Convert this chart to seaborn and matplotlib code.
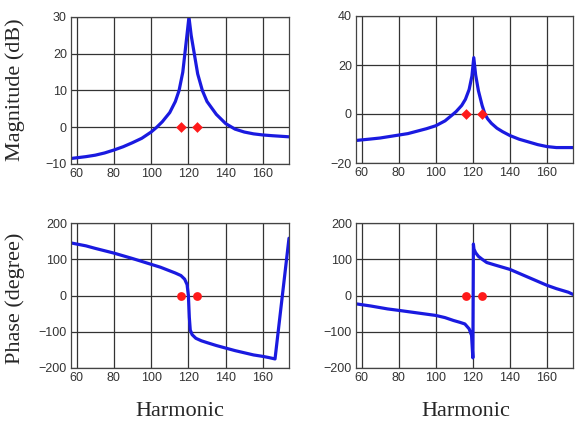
import numpy as np
import pandas as pd
import matplotlib
matplotlib.use("Agg")
import matplotlib.pyplot as plt
import seaborn as sns

# ---- data ----
mag1_h = [57, 65, 70, 75, 80, 85, 90, 95, 100, 103, 106, 110, 113, 115, 117, 118, 119, 120.3,
          121.5, 123, 125, 127.5, 130, 135, 140, 145, 150, 155, 160, 165, 174]
mag1_v = [-8.5, -8.0, -7.6, -7.0, -6.2, -5.3, -4.2, -3.0, -1.3, 0.0, 1.5, 4.0, 7.0, 10.0, 15.0, 19.5, 24.0, 30.0,
          25.0, 20.5, 14.5, 10.0, 7.0, 3.5, 1.0, -0.5, -1.3, -1.8, -2.1, -2.3, -2.6]

mag2_h = [57, 65, 70, 75, 80, 85, 90, 95, 100, 105, 108.7, 111, 114, 116, 118, 119.5, 120.5,
          121.5, 123, 125, 126.5, 128, 130, 133, 136, 140, 145, 150, 155, 160, 165, 174]
mag2_v = [-10.8, -10.2, -9.8, -9.2, -8.6, -8.0, -7.0, -6.0, -4.8, -2.8, -0.5, 1.0, 3.5, 6.0, 10.0, 15.5, 23.0,
          16.0, 9.5, 3.5, 0.0, -2.0, -3.8, -5.8, -7.2, -8.8, -10.3, -11.4, -12.5, -13.3, -13.7, -13.7]

ph1_h = [57, 65, 70, 80, 90, 100, 105, 110, 113, 116, 118, 119.3, 120, 120.5, 121, 122, 124, 127, 130,
         135, 140, 145, 150, 155, 160, 163, 166.5, 174]
ph1_v = [145, 137, 130, 117, 102, 86, 78, 68, 62, 55, 45, 30, 0, -60, -95, -108, -118, -125, -130,
         -138, -145, -152, -158, -164, -168, -171, -175, 158]

ph2_h = [57, 65, 74, 80, 90, 100, 105, 109.6, 113, 115.7, 118, 119.3, 120.0, 120.3, 120.6, 121.5,
         123, 125, 127.5, 132, 136, 140, 145, 150, 155, 160, 165, 171.5, 174]
ph2_v = [-23, -29, -37, -41, -48, -55, -61, -69, -74, -78.5, -92, -110, -172, 142, 128, 118,
         108, 100, 91, 84, 78, 72, 61, 50, 39, 28, 19, 9, 3]

mark_h1 = [116, 124.5]
mark_h2 = [116.5, 125]
mark_v = [0, 0]

x_ticks = [60, 80, 100, 120, 140, 160]
yticks_mag1 = [-10, 0, 10, 20, 30]
yticks_mag2 = [-20, 0, 20, 40]
yticks_ph = [-200, -100, 0, 100, 200]

sns.set_style("white")
plt.rcParams["font.family"] = ["Liberation Sans", "DejaVu Sans"]

fig = plt.figure(figsize=(5.75, 4.28), dpi=100)
W, H = 575, 428

def add_ax(l, t, r, b):
    return fig.add_axes([l / W, 1 - b / H, (r - l) / W, (b - t) / H])

ax1 = add_ax(71, 17, 289, 164)
ax2 = add_ax(356, 16, 573, 163)
ax3 = add_ax(71, 223, 289, 368)
ax4 = add_ax(356, 223, 573, 368)

blue = "#1a1ae0"
red = "#ff1a1a"

panels = [
    (ax1, mag1_h, mag1_v, mark_h1, "D", (-10, 30), yticks_mag1),
    (ax2, mag2_h, mag2_v, mark_h2, "D", (-20, 40), yticks_mag2),
    (ax3, ph1_h, ph1_v, mark_h1, "o", (-200, 200), yticks_ph),
    (ax4, ph2_h, ph2_v, mark_h2, "o", (-200, 200), yticks_ph),
]

for ax, hx, vy, mh, mk, ylim, yt in panels:
    df = pd.DataFrame({"h": hx, "v": vy})
    sns.lineplot(data=df, x="h", y="v", ax=ax, color=blue, linewidth=2.3, sort=False, estimator=None)
    dm = pd.DataFrame({"h": mh, "v": mark_v})
    sns.scatterplot(data=dm, x="h", y="v", ax=ax, color=red, marker=mk,
                    s=40 if mk == "o" else 30, edgecolor=red, linewidth=0, zorder=5)
    ax.set_xlim(57, 174)
    ax.set_ylim(*ylim)
    ax.set_xticks(x_ticks)
    ax.set_yticks(yt)
    ax.grid(True, color="#333333", linewidth=0.9)
    ax.set_axisbelow(True)
    ax.tick_params(axis="both", labelsize=9, colors="#333333", length=0, pad=3)
    ax.set_xlabel("")
    ax.set_ylabel("")
    for s in ax.spines.values():
        s.set_color("#444444")
        s.set_linewidth(0.9)

serif = ["Liberation Serif", "DejaVu Serif"]
fig.text(15 / W, 1 - 90 / H, "Magnitude (dB)", rotation=90, ha="center", va="center",
         fontsize=16, family=serif)
fig.text(15 / W, 1 - 298 / H, "Phase (degree)", rotation=90, ha="center", va="center",
         fontsize=16, family=serif)
fig.text(180 / W, 1 - 411 / H, "Harmonic", ha="center", va="center", fontsize=16, family=serif)
fig.text(466 / W, 1 - 411 / H, "Harmonic", ha="center", va="center", fontsize=16, family=serif)

fig.savefig("out.png", dpi=100)
